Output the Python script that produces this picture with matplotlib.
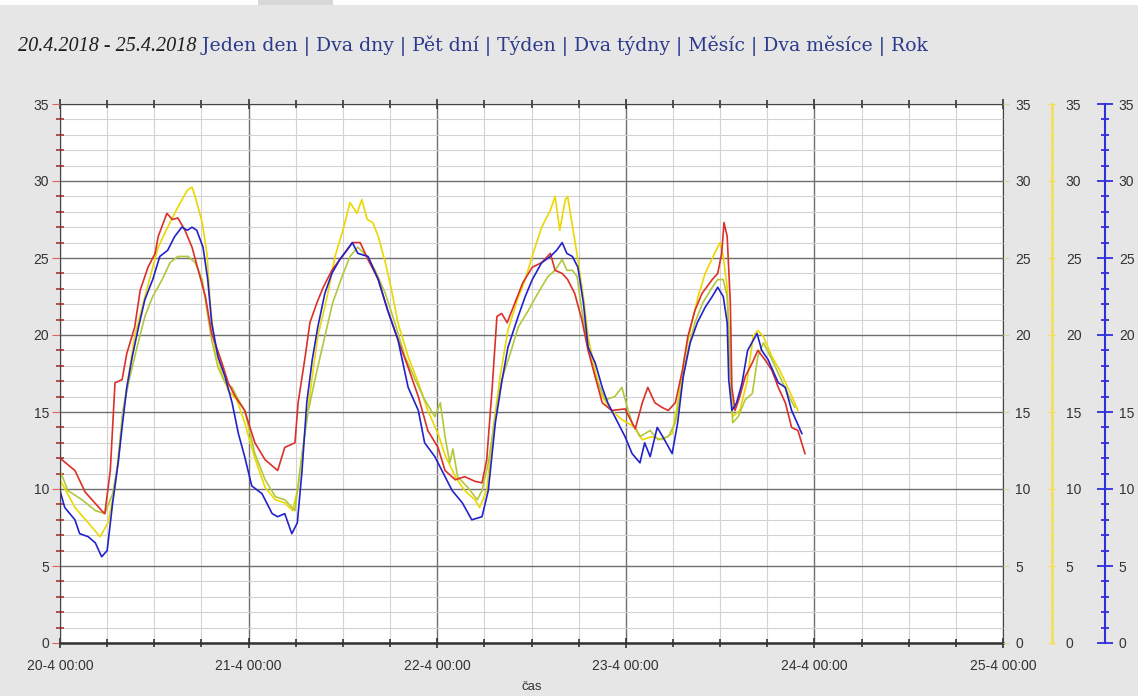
import matplotlib.pyplot as plt
from matplotlib.patches import Rectangle
from matplotlib.ticker import MultipleLocator
from matplotlib.transforms import ScaledTranslation

# hours since 20-4 00:00 and temperature readings
red_h = [0, 1.9, 3.2, 5.3, 5.7, 6.4, 7.0, 7.9, 8.5, 9.5, 10.2, 11.2, 12.1, 12.5, 13.6, 14.3, 15.0,
         15.9, 16.8, 17.6, 18.5, 19.3, 20.6, 21.4, 22.3, 23.5, 24.8, 26.1, 27.7, 28.6, 29.9, 30.3,
         31.2, 31.8, 32.7, 33.5, 34.6, 35.9, 37.2, 38.2, 39.2, 40.5, 41.7, 43.0, 44.3, 45.6, 46.8,
         48.1, 49.0, 50.3, 51.5, 52.8, 53.7, 54.3, 55.0, 55.6, 56.2, 56.9, 57.9, 58.9, 60.1, 61.3,
         62.4, 63.0, 63.9, 64.6, 65.5, 66.4, 67.2, 68.1, 69.0, 70.2, 71.9, 73.2, 74.1, 74.8, 75.7,
         76.6, 77.4, 78.3, 79.2, 79.9, 80.8, 81.7, 83.0, 83.7, 84.2, 84.5, 84.9, 85.3, 85.5, 85.9,
         86.5, 87.2, 88.1, 88.8, 89.7, 90.6, 91.4, 92.3, 93.1, 93.9, 94.8]
red_v = [12.0, 11.2, 9.8, 8.6, 8.4, 11.2, 16.9, 17.1, 18.8, 20.5, 22.9, 24.4, 25.3, 26.4, 27.9, 27.5,
         27.6, 26.8, 25.7, 24.2, 22.5, 20.1, 18.2, 16.9, 16.0, 15.1, 13.0, 11.9, 11.2, 12.7, 13.0,
         15.6, 18.6, 20.8, 22.1, 23.1, 24.2, 25.1, 26.0, 26.0, 24.9, 23.6, 21.6, 19.7, 17.9, 16.0,
         13.8, 12.7, 11.2, 10.6, 10.8, 10.5, 10.4, 11.9, 16.6, 21.2, 21.4, 20.8, 22.1, 23.4, 24.4,
         24.7, 25.3, 24.2, 24.0, 23.6, 22.7, 21.0, 19.0, 17.3, 15.6, 15.1, 15.2, 13.9, 15.6, 16.6,
         15.6, 15.3, 15.1, 15.6, 17.7, 19.9, 21.6, 22.7, 23.6, 24.0, 25.3, 27.3, 26.4, 22.1, 16.6,
         15.1, 16.0, 17.3, 18.2, 19.0, 18.4, 17.7, 16.6, 15.6, 14.0, 13.8, 12.3]

blue_h = [0, 0.6, 1.9, 2.5, 3.6, 4.5, 5.3, 6.0, 6.7, 7.4, 7.9, 8.5, 9.2, 9.9, 10.8, 11.8, 12.7,
          13.7, 14.6, 15.5, 16.2, 16.8, 17.4, 18.2, 18.8, 19.3, 20.1, 21.0, 21.9, 22.7, 23.5, 24.4,
          25.7, 27.0, 27.7, 28.6, 29.5, 30.2, 30.8, 31.4, 32.1, 32.8, 33.7, 34.6, 35.6, 36.5, 37.2,
          37.9, 39.2, 40.5, 41.7, 43.0, 44.3, 45.6, 46.4, 47.7, 49.0, 49.9, 51.2, 52.4, 53.7, 54.5,
          55.4, 56.2, 57.0, 58.3, 59.2, 60.1, 61.3, 62.4, 63.2, 63.9, 64.5, 65.2, 65.9, 66.6, 67.2,
          68.1, 69.0, 69.7, 71.0, 71.9, 72.8, 73.8, 74.4, 75.1, 76.0, 76.7, 77.9, 78.6, 79.3, 80.2,
          81.1, 82.1, 83.0, 83.7, 84.4, 84.9, 85.1, 85.5, 86.1, 86.8, 87.5, 88.7, 89.3, 90.1, 91.4,
          92.3, 93.1, 93.8, 94.4]
blue_v = [9.9, 8.8, 8.0, 7.1, 6.9, 6.5, 5.6, 6.0, 9.1, 11.7, 14.0, 16.6, 18.6, 20.3, 22.3, 23.6,
          25.1, 25.5, 26.4, 27.0, 26.8, 27.0, 26.8, 25.7, 23.6, 20.8, 18.6, 17.3, 15.6, 13.6, 12.1,
          10.2, 9.7, 8.4, 8.2, 8.4, 7.1, 7.8, 11.2, 15.6, 18.4, 20.5, 22.7, 24.0, 24.9, 25.5, 26.0,
          25.3, 25.1, 23.6, 21.6, 19.7, 16.6, 15.1, 13.0, 12.1, 10.8, 9.9, 9.1, 8.0, 8.2, 9.9, 14.3,
          16.9, 19.2, 21.2, 22.5, 23.6, 24.7, 25.1, 25.5, 26.0, 25.3, 25.1, 24.4, 22.1, 19.2, 18.2,
          16.6, 15.6, 14.3, 13.4, 12.3, 11.7, 13.0, 12.1, 14.0, 13.4, 12.3, 14.3, 17.3, 19.5, 20.8,
          21.8, 22.5, 23.1, 22.5, 20.8, 17.1, 15.1, 15.6, 16.9, 19.0, 20.1, 19.0, 18.4, 16.9, 16.6,
          15.1, 14.3, 13.6]

yellow_h = [0, 1.9, 3.6, 5.1, 6.1, 7.0, 7.9, 8.7, 9.5, 10.6, 11.7, 12.5, 13.7, 15.0, 16.2, 16.8,
            17.2, 18.1, 18.7, 19.1, 19.7, 20.6, 21.4, 22.5, 23.5, 24.8, 26.1, 27.4, 28.6, 29.6,
            30.3, 31.2, 32.1, 32.8, 34.0, 35.0, 36.0, 36.9, 37.8, 38.4, 39.1, 39.8, 40.5, 41.4,
            42.2, 43.0, 44.3, 45.6, 46.8, 48.1, 49.0, 50.3, 51.5, 52.8, 53.4, 54.3, 55.1, 56.0,
            57.0, 58.2, 59.2, 60.2, 61.3, 62.4, 63.0, 63.6, 64.3, 64.6, 65.3, 65.9, 66.6, 67.2,
            68.1, 69.0, 70.2, 71.5, 73.2, 74.1, 75.3, 76.6, 77.9, 78.6, 79.5, 80.4, 81.2, 82.1,
            83.3, 84.0, 84.4, 84.9, 85.3, 85.6, 86.5, 87.4, 88.2, 88.8, 89.5, 90.6, 91.6, 92.6,
            93.5, 93.9]
yellow_v = [10.6, 8.8, 7.8, 6.9, 7.8, 10.1, 14.5, 17.3, 19.9, 22.1, 24.2, 25.7, 27.0, 28.3, 29.4,
            29.6, 29.0, 27.3, 25.3, 22.1, 19.2, 17.5, 16.4, 15.8, 14.3, 12.0, 10.1, 9.3, 9.1, 8.6,
            10.1, 13.8, 17.3, 19.9, 22.5, 25.1, 26.8, 28.6, 27.9, 28.8, 27.5, 27.3, 26.4, 24.7,
            22.9, 20.8, 18.6, 16.9, 15.1, 13.6, 12.2, 10.8, 9.9, 9.3, 8.8, 9.9, 13.8, 17.3, 20.3,
            22.3, 23.6, 25.3, 27.0, 28.1, 29.0, 26.8, 28.8, 29.0, 26.8, 24.9, 22.5, 19.9, 17.7,
            16.0, 15.1, 14.5, 14.0, 13.2, 13.4, 13.2, 13.6, 15.6, 18.6, 20.8, 22.5, 24.0, 25.3,
            26.0, 25.1, 23.1, 17.7, 14.7, 15.1, 16.9, 19.9, 20.3, 19.9, 18.6, 17.7, 16.6, 15.6,
            15.1]

green_h = [0, 1.0, 2.8, 4.5, 5.7, 6.7, 7.4, 8.0, 8.9, 9.8, 10.8, 11.8, 13.0, 14.0, 15.0, 16.3,
           17.2, 18.1, 18.7, 19.3, 20.1, 21.0, 21.9, 22.7, 23.5, 24.8, 26.1, 27.4, 28.6, 29.9,
           30.8, 31.6, 32.7, 33.7, 34.7, 35.9, 36.9, 37.9, 39.1, 40.1, 41.4, 42.6, 43.9, 45.2,
           46.4, 47.7, 48.4, 49.0, 49.6, 50.0, 50.6, 51.9, 53.1, 53.7, 54.5, 55.4, 56.2, 57.3,
           58.3, 59.6, 60.8, 62.1, 63.0, 63.9, 64.5, 65.2, 65.8, 66.4, 67.1, 68.1, 69.4, 70.6,
           71.5, 72.3, 72.8, 73.8, 75.1, 76.1, 77.4, 78.3, 79.2, 79.9, 80.8, 81.8, 83.0, 83.7,
           84.4, 84.9, 85.3, 85.6, 86.3, 87.2, 88.1, 88.8, 89.5, 90.6, 91.6, 92.6, 93.5]
green_v = [11.2, 9.9, 9.3, 8.6, 8.4, 9.7, 11.7, 15.1, 17.3, 19.2, 21.2, 22.5, 23.6, 24.7, 25.1,
           25.1, 24.7, 23.6, 21.6, 19.7, 17.9, 16.9, 16.6, 15.8, 15.1, 12.3, 10.6, 9.5, 9.3, 8.6,
           12.3, 15.1, 17.7, 19.9, 22.1, 23.8, 25.1, 25.7, 25.1, 24.2, 22.7, 20.8, 18.6, 17.1,
           15.8, 14.7, 15.6, 13.4, 11.7, 12.6, 10.8, 10.1, 9.3, 9.9, 11.7, 14.7, 17.1, 18.8, 20.5,
           21.6, 22.7, 23.8, 24.2, 24.9, 24.2, 24.2, 23.8, 21.6, 19.5, 17.3, 15.8, 16.0, 16.6,
           15.1, 14.3, 13.4, 13.8, 13.2, 13.4, 14.3, 16.9, 19.0, 20.8, 22.1, 23.1, 23.6, 23.6,
           22.5, 17.7, 14.3, 14.7, 15.8, 16.2, 18.6, 19.5, 18.4, 17.3, 16.2, 15.3]

day_ticks = [0, 24, 48, 72, 96, 120]
day_labels = ['20-4 00:00', '21-4 00:00', '22-4 00:00', '23-4 00:00', '24-4 00:00', '25-4 00:00']
date_range = '20.4.2018 - 25.4.2018'
links = ['Jeden den', 'Dva dny', 'Pět dní', 'Týden', 'Dva týdny', 'Měsíc', 'Dva měsíce', 'Rok']

W, H = 1138, 696
plt.rcParams['font.family'] = ['Liberation Sans', 'DejaVu Sans']
fig = plt.figure(figsize=(W / 100, H / 100), dpi=100)
fig.patch.set_facecolor('#e6e6e6')
fig.patches.append(Rectangle((0, 1 - 5 / H), 1, 5 / H, transform=fig.transFigure,
                             facecolor='white', edgecolor='none'))
fig.patches.append(Rectangle((258 / W, 1 - 5 / H), 75 / W, 5 / H, transform=fig.transFigure,
                             facecolor='#d8d8d8', edgecolor='none'))

# header line: date range, then the period links right after it
t1 = fig.text(18 / W, 1 - 51 / H, date_range, family='Liberation Serif', style='italic',
              fontsize=14.5, color='#1e1e1e', va='baseline')
fig.canvas.draw()
shift = ScaledTranslation(t1.get_window_extent().width / 100, 0, fig.dpi_scale_trans)
fig.text(18 / W, 1 - 51 / H, ' ' + ' | '.join(links), family='DejaVu Serif', fontsize=13.6,
         color='#2c3a8c', va='baseline', transform=fig.transFigure + shift)

x0, x1 = 60, 1003
ax = fig.add_axes([x0 / W, 1 - 643 / H, (x1 - x0) / W, (643 - 104) / H])
ax.set_facecolor('white')
ax.plot(yellow_h, yellow_v, color='#ecd800', lw=1.2)
ax.plot(green_h, green_v, color='#b2c83c', lw=1.2)
ax.plot(red_h, red_v, color='#dc3028', lw=1.2)
ax.plot(blue_h, blue_v, color='#2222cc', lw=1.2)

ax.set_xlim(0, 120)
ax.set_ylim(0, 35)
ax.set_xticks(day_ticks, day_labels)
ax.xaxis.set_minor_locator(MultipleLocator(6))
ax.yaxis.set_major_locator(MultipleLocator(5))
ax.yaxis.set_minor_locator(MultipleLocator(1))
ax.grid(which='major', color='#6e6e6e', lw=1.0)
ax.grid(which='minor', color='#d2d2d2', lw=0.8)
ax.set_axisbelow(True)

ax.tick_params(axis='x', which='both', direction='inout', top=True, colors='#333333',
               labelsize=10, pad=8)
ax.tick_params(axis='x', which='major', length=7, width=1.2)
ax.tick_params(axis='x', which='minor', length=6, width=1.2)
ax.tick_params(axis='y', which='major', direction='out', length=6, color='#e06060',
               labelcolor='#333333', labelsize=10, pad=2)
ax.tick_params(axis='y', which='minor', direction='inout', length=6, width=1.2, color='#b03030')
for side in ['left', 'right', 'top']:
    ax.spines[side].set_color('#444444')
ax.spines['bottom'].set_color('#333333')
ax.spines['bottom'].set_linewidth(1.8)
ax.set_xlabel('čas', fontsize=9.5, color='#333333', labelpad=6)

# right side scales
ax_g = ax.twinx()
ax_g.set_ylim(0, 35)
ax_g.yaxis.set_major_locator(MultipleLocator(5))
ax_g.yaxis.set_minor_locator(MultipleLocator(1))
ax_g.tick_params(which='major', direction='out', length=4, color='#d0dc90',
                 labelcolor='#333333', labelsize=10, pad=5)
ax_g.tick_params(which='minor', direction='out', length=2, color='#e0e8c0')
for side in ['left', 'right', 'top', 'bottom']:
    ax_g.spines[side].set_visible(False)

ax_y = ax.twinx()
ax_y.set_ylim(0, 35)
ax_y.spines['right'].set_position(('axes', (1052 - x0) / (x1 - x0)))
ax_y.spines['right'].set_color('#f2e060')
ax_y.spines['right'].set_linewidth(2)
ax_y.yaxis.set_major_locator(MultipleLocator(5))
ax_y.yaxis.set_minor_locator(MultipleLocator(1))
ax_y.tick_params(which='major', direction='inout', length=6, color='#f2e060',
                 labelcolor='#333333', labelsize=10, pad=7)
ax_y.tick_params(which='minor', direction='inout', length=4, color='#f2e890')
for side in ['left', 'top', 'bottom']:
    ax_y.spines[side].set_visible(False)

ax_b = ax.twinx()
ax_b.set_ylim(0, 35)
ax_b.spines['right'].set_position(('axes', (1105 - x0) / (x1 - x0)))
ax_b.spines['right'].set_color('#3030d8')
ax_b.spines['right'].set_linewidth(1.5)
ax_b.yaxis.set_major_locator(MultipleLocator(5))
ax_b.yaxis.set_minor_locator(MultipleLocator(1))
ax_b.tick_params(which='major', direction='inout', length=12, width=1.3, color='#3030d8',
                 labelcolor='#333333', labelsize=10, pad=4)
ax_b.tick_params(which='minor', direction='inout', length=6, width=1.3, color='#3030d8')
for side in ['left', 'top', 'bottom']:
    ax_b.spines[side].set_visible(False)

fig.savefig('out.png', dpi=100, facecolor=fig.get_facecolor())
